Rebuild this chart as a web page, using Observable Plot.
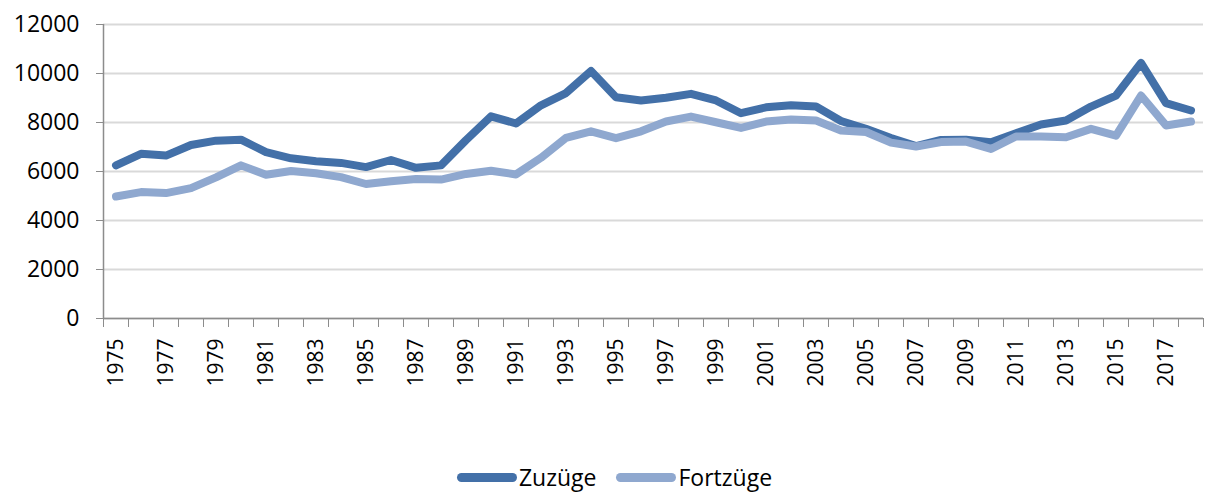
<!DOCTYPE html>
<html>
<head>
<meta charset="utf-8">
<script src="https://cdn.jsdelivr.net/npm/d3@7"></script>
<script src="https://cdn.jsdelivr.net/npm/@observablehq/plot@0.6"></script>
<style>
  body { margin: 0; background: #fff; font-family: "Open Sans", sans-serif; overflow: hidden; }
  #wrap { position: relative; width: 1205px; height: 493px; }
  #legend { position: absolute; left: 0; top: 462px; height: 30px; width: 1205px; display: flex; justify-content: center; align-items: center; font-size: 23px; line-height: 30px; color: #000; padding-left: 24px; box-sizing: border-box; }
  .item { display: flex; align-items: center; margin: 0 10px; }
  .sw { width: 60px; height: 9px; border-radius: 5px; margin-right: 2px; }
</style>
</head>
<body>
<div id="wrap">
  <div id="chart"></div>
  <div id="legend"></div>
</div>
<script>
const years = d3.range(1975, 2019);
const zuzuege = [6250, 6720, 6650, 7080, 7260, 7300, 6790, 6540, 6420, 6350, 6180, 6470, 6150, 6250, 7280, 8250, 7960, 8700, 9200, 10100, 9030, 8900, 9010, 9170, 8900, 8380, 8620, 8700, 8650, 8060, 7740, 7370, 7040, 7290, 7300, 7190, 7560, 7920, 8080, 8650, 9100, 10430, 8790, 8490];
const fortzuege = [4980, 5160, 5120, 5320, 5760, 6250, 5870, 6020, 5930, 5770, 5490, 5600, 5690, 5670, 5900, 6030, 5880, 6560, 7370, 7640, 7360, 7640, 8040, 8240, 8010, 7780, 8040, 8120, 8080, 7670, 7610, 7180, 7020, 7200, 7220, 6920, 7430, 7430, 7400, 7740, 7460, 9100, 7880, 8040];
const seriesNames = ["Zuzüge", "Fortzüge"];
const colors = ["#4370a8", "#8fa8cf"];
const yTicks = [0, 2000, 4000, 6000, 8000, 10000, 12000];
const xLabelYears = years.filter(y => (y - 1975) % 2 === 0);

const data = [];
years.forEach((y, i) => {
  data.push({year: y, value: zuzuege[i], series: seriesNames[0]});
  data.push({year: y, value: fortzuege[i], series: seriesNames[1]});
});
const boundaries = years.map(y => y - 0.5).concat([years[years.length - 1] + 0.5]);

const chart = Plot.plot({
  width: 1205,
  height: 455,
  marginLeft: 103,
  marginRight: 2,
  marginTop: 24,
  marginBottom: 137,
  style: {fontFamily: "Open Sans, sans-serif", color: "#000", background: "#fff"},
  x: {domain: [years[0] - 0.5, years[years.length - 1] + 0.5]},
  y: {domain: [0, 12000]},
  marks: [
    Plot.gridY(yTicks, {stroke: "#d9d9d9", strokeOpacity: 1, strokeWidth: 2}),
    Plot.ruleY([0], {stroke: "#8c8c8c", strokeWidth: 1.5}),
    Plot.ruleX([years[0] - 0.5], {stroke: "#8c8c8c", strokeWidth: 1.5}),
    Plot.axisY({ticks: yTicks, tickSize: 7, tickPadding: 17, tickFormat: d3.format("d"), fontSize: 23, stroke: "#8c8c8c", label: null}),
    Plot.axisX({ticks: boundaries, tickSize: 9, tickFormat: () => "", stroke: "#8c8c8c", label: null}),
    Plot.axisX({ticks: xLabelYears, tickSize: 0, tickPadding: 20, tickRotate: -90, tickFormat: d3.format("d"), fontSize: 21, label: null}),
    Plot.lineY(data.filter(d => d.series === seriesNames[0]), {x: "year", y: "value", stroke: colors[0], strokeWidth: 8, strokeLinecap: "round", strokeLinejoin: "round"}),
    Plot.lineY(data.filter(d => d.series === seriesNames[1]), {x: "year", y: "value", stroke: colors[1], strokeWidth: 8, strokeLinecap: "round", strokeLinejoin: "round"})
  ]
});
document.getElementById("chart").appendChild(chart);

const legend = document.getElementById("legend");
seriesNames.forEach((name, i) => {
  const item = document.createElement("div");
  item.className = "item";
  const sw = document.createElement("div");
  sw.className = "sw";
  sw.style.background = colors[i];
  const label = document.createElement("span");
  label.textContent = name;
  item.appendChild(sw);
  item.appendChild(label);
  legend.appendChild(item);
});
</script>
</body>
</html>
